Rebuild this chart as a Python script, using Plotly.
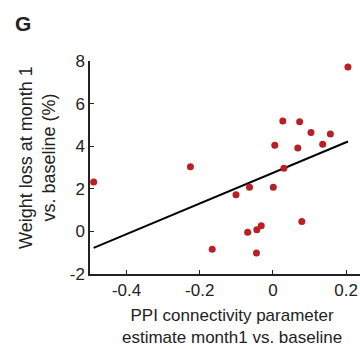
import numpy as np
import plotly.graph_objects as go

# Data
ppi_x = [-0.490, -0.2255, -0.166, -0.101, -0.064, -0.069, -0.044, -0.032, -0.045, 0.001,
         0.005, 0.027, 0.030, 0.068, 0.073, 0.079, 0.104, 0.136, 0.157, 0.205]
weight_loss = [2.32, 3.04, -0.84, 1.72, 2.07, -0.04, 0.08, 0.27, -1.01, 2.07,
               4.04, 5.18, 2.96, 3.92, 5.15, 0.47, 4.64, 4.09, 4.57, 7.72]
x_ticks = [-0.4, -0.2, 0, 0.2]
x_tick_labels = ["-0.4", "-0.2", "0", "0.2"]
y_ticks = [-2, 0, 2, 4, 6, 8]
y_tick_labels = ["-2", "0", "2", "4", "6", "8"]

slope, intercept = np.polyfit(ppi_x, weight_loss, 1)
fit_x = np.array([min(ppi_x), max(ppi_x)])
fit_y = slope * fit_x + intercept

FONT = "Liberation Sans, Arial, sans-serif"
TXT = "#222222"

fig = go.Figure()
fig.add_trace(go.Scatter(x=fit_x, y=fit_y, mode="lines",
                         line=dict(color="black", width=2), showlegend=False,
                         hoverinfo="skip"))
fig.add_trace(go.Scatter(x=ppi_x, y=weight_loss, mode="markers",
                         marker=dict(color="#b82025", size=7, line=dict(width=0)),
                         showlegend=False))

fig.update_layout(
    width=360, height=349,
    margin=dict(l=90, r=0, t=61, b=75),
    paper_bgcolor="white", plot_bgcolor="white",
    font=dict(family=FONT, color=TXT, size=17),
    xaxis=dict(range=[-0.5, 0.238], tickvals=x_ticks, ticktext=x_tick_labels,
               showgrid=False, zeroline=False, showline=True, linecolor=TXT,
               linewidth=1.5, ticks="inside", ticklen=4, tickwidth=1.2,
               tickcolor=TXT, tickfont=dict(size=17)),
    yaxis=dict(range=[-2, 8], tickvals=y_ticks, ticktext=y_tick_labels,
               showgrid=False, zeroline=False, showline=True, linecolor=TXT,
               linewidth=1.5, ticks="inside", ticklen=4, tickwidth=1.2,
               tickcolor=TXT, tickfont=dict(size=17)),
    annotations=[
        dict(text="PPI connectivity parameter<br>estimate month1 vs. baseline",
             xref="paper", yref="paper", x=0.526, y=0, yshift=-30,
             xanchor="center", yanchor="top", showarrow=False,
             font=dict(size=17, color=TXT, family=FONT)),
        dict(text="Weight loss at month 1<br>vs. baseline (%)",
             xref="paper", yref="paper", x=0, xshift=-52, y=0.545,
             xanchor="center", yanchor="middle", textangle=-90, showarrow=False,
             font=dict(size=18, color=TXT, family=FONT)),
        dict(text="<b>G</b>", xref="paper", yref="paper", x=0, xshift=-77,
             y=1, yshift=38, xanchor="left", yanchor="middle", showarrow=False,
             font=dict(size=21, color=TXT, family=FONT)),
    ],
)

fig.write_html("out.html")
